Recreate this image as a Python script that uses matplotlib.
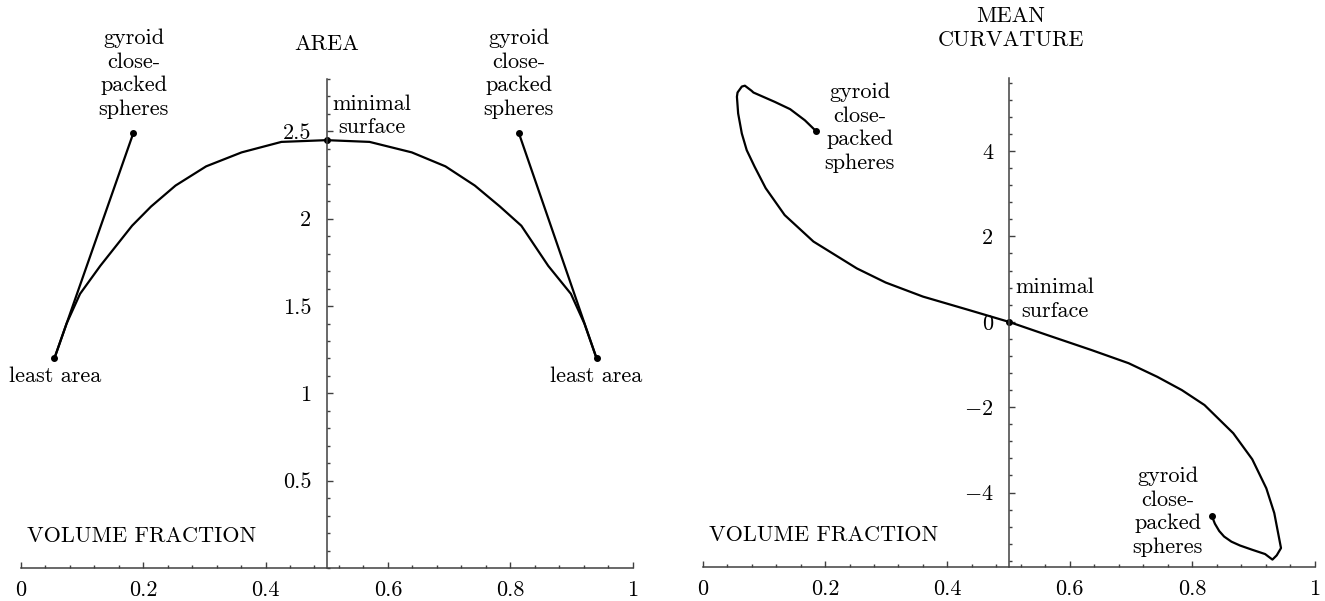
import numpy as np
import matplotlib
matplotlib.use("Agg")
import matplotlib.pyplot as plt
from matplotlib.ticker import FixedLocator, MultipleLocator

plt.rcParams['font.family'] = ['cmr10', 'DejaVu Serif']
plt.rcParams['mathtext.fontset'] = 'cm'
plt.rcParams['axes.formatter.use_mathtext'] = True

# area vs volume fraction (left panel)
area_x = [0.055, 0.075, 0.097, 0.130, 0.182, 0.213, 0.253, 0.303, 0.361, 0.426, 0.500,
          0.570, 0.639, 0.694, 0.742, 0.783, 0.818, 0.862, 0.899, 0.921, 0.941]
area_y = [1.20, 1.40, 1.57, 1.73, 1.96, 2.07, 2.19, 2.30, 2.38, 2.44, 2.45,
          2.44, 2.38, 2.30, 2.19, 2.07, 1.96, 1.73, 1.57, 1.40, 1.20]
least_x = [0.055, 0.941]
least_y = [1.20, 1.20]
gyroid_x = [0.184, 0.814]
gyroid_y = [2.49, 2.49]
minimal_area = (0.5, 2.45)

# mean curvature vs volume fraction (right panel)
curv_x = [0.185, 0.167, 0.143, 0.118, 0.083, 0.080, 0.069, 0.064, 0.057, 0.056, 0.058,
          0.064, 0.072, 0.085, 0.103, 0.134, 0.181, 0.252, 0.299, 0.360, 0.434, 0.500,
          0.565, 0.635, 0.696, 0.743, 0.783, 0.820, 0.867, 0.898, 0.921, 0.934, 0.945,
          0.938, 0.931, 0.919, 0.898, 0.878, 0.864, 0.852, 0.844, 0.837, 0.832]
curv_y = [4.47, 4.72, 4.98, 5.15, 5.37, 5.41, 5.53, 5.51, 5.37, 5.27, 4.88,
          4.41, 4.02, 3.63, 3.13, 2.50, 1.88, 1.25, 0.92, 0.59, 0.28, 0.0,
          -0.32, -0.66, -0.97, -1.29, -1.60, -1.95, -2.61, -3.22, -3.90, -4.48, -5.30,
          -5.47, -5.57, -5.44, -5.34, -5.24, -5.15, -5.03, -4.90, -4.73, -4.55]
curv_dots_x = [0.185, 0.5, 0.832]
curv_dots_y = [4.47, 0.0, -4.55]

xticks = [0, 0.2, 0.4, 0.6, 0.8, 1]
xticklabels = ['0', '0.2', '0.4', '0.6', '0.8', '1']
area_ticks = [0.5, 1, 1.5, 2, 2.5]
area_ticklabels = ['0.5', '1', '1.5', '2', '2.5']
curv_ticks = [-4, -2, 0, 2, 4]
curv_ticklabels = ['$-4$', '$-2$', '0', '2', '4']

FS = 16
axcol = '0.25'

fig = plt.figure(figsize=(13.25, 6.01), dpi=100)
ax1 = fig.add_axes([0.01562, 0.0549, 0.4619, 0.8136])
ax2 = fig.add_axes([0.5303, 0.0561, 0.4619, 0.8141])


def style_axes(ax, ylim, yticks, ylabels, yminor):
    ax.set_xlim(0, 1)
    ax.set_ylim(*ylim)
    ax.patch.set_visible(False)
    for s in ['top', 'right']:
        ax.spines[s].set_visible(False)
    ax.spines['left'].set_position(('data', 0.5))
    for s in ['left', 'bottom']:
        ax.spines[s].set_color(axcol)
        ax.spines[s].set_linewidth(1.1)
    ax.xaxis.set_major_locator(FixedLocator(xticks))
    ax.set_xticklabels(xticklabels)
    ax.xaxis.set_minor_locator(MultipleLocator(0.04))
    ax.yaxis.set_major_locator(FixedLocator(yticks))
    ax.set_yticklabels(ylabels)
    ax.yaxis.set_minor_locator(MultipleLocator(yminor))
    ax.tick_params(which='both', direction='in', color=axcol, width=1.0)
    ax.tick_params(which='major', length=4)
    ax.tick_params(which='minor', length=2)
    ax.tick_params(axis='x', which='major', pad=9, labelsize=FS)
    ax.tick_params(axis='y', which='major', pad=11, labelsize=FS)


style_axes(ax1, (0, 2.8), area_ticks, area_ticklabels, 0.1)
style_axes(ax2, (-5.75, 5.71), curv_ticks, curv_ticklabels, 0.4)

# left panel
ax1.plot(area_x, area_y, color='black', lw=1.6, clip_on=False)
for gx, gy, lx, ly in zip(gyroid_x, gyroid_y, least_x, least_y):
    ax1.plot([gx, lx], [gy, ly], color='black', lw=1.6, clip_on=False)
ax1.plot(gyroid_x + least_x + [minimal_area[0]], gyroid_y + least_y + [minimal_area[1]],
         'o', color='black', ms=4, clip_on=False)

txt = dict(fontsize=FS, ha='center', va='center', linespacing=1.26, clip_on=False)
ax1.text(0.5, 3.0, 'AREA', **txt)
ax1.text(0.185, 2.83, 'gyroid\nclose-\npacked\nspheres', **txt)
ax1.text(0.814, 2.83, 'gyroid\nclose-\npacked\nspheres', **txt)
ax1.text(0.574, 2.59, 'minimal\nsurface', **txt)
ax1.text(0.056, 1.10, 'least area', **txt)
ax1.text(0.941, 1.10, 'least area', **txt)
ax1.text(0.197, 0.18, 'VOLUME FRACTION', **txt)

# right panel
ax2.plot(curv_x, curv_y, color='black', lw=1.6, clip_on=False)
ax2.plot(curv_dots_x, curv_dots_y, 'o', color='black', ms=4, clip_on=False)
ax2.text(0.504, 6.88, 'MEAN\nCURVATURE', **txt)
ax2.text(0.257, 4.54, 'gyroid\nclose-\npacked\nspheres', **txt)
ax2.text(0.575, 0.53, 'minimal\nsurface', **txt)
ax2.text(0.760, -4.45, 'gyroid\nclose-\npacked\nspheres', **txt)
ax2.text(0.198, -5.0, 'VOLUME FRACTION', **txt)

fig.savefig('out.png', dpi=100)
